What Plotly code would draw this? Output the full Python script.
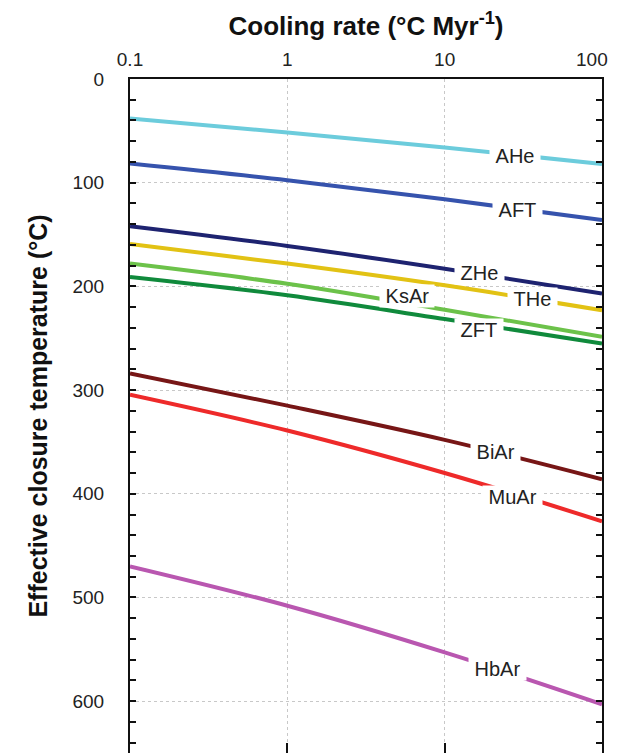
import math
import plotly.graph_objects as go

# Cooling rate (°C/Myr) sample points
rates = [0.1, 1, 10, 100]

# Effective closure temperatures (°C) per system
AHe = [38, 51.6, 66, 82]
AFT = [81.5, 97.6, 116, 136]
ZHe = [142, 161, 183, 207]
THe = [159, 178, 199, 223]
KsAr = [178, 197.5, 222.5, 248.5]
ZFT = [191, 208.6, 231.5, 255]
BiAr = [284, 315, 348, 386]
MuAr = [304.5, 339, 380, 426.5]
HbAr = [470, 508, 553, 603]

names = ["AHe", "AFT", "ZHe", "THe", "KsAr", "ZFT", "BiAr", "MuAr", "HbAr"]
series = [AHe, AFT, ZHe, THe, KsAr, ZFT, BiAr, MuAr, HbAr]
colors = ["#6cccdc", "#3653ad", "#1e2370", "#e2c214", "#6cc24a",
          "#108a3c", "#771616", "#ee2a2a", "#b957b0"]

# inline label positions (cooling rate, temperature)
label_x = [27.8, 28.9, 16.7, 36, 5.77, 16.5, 21, 26.9, 21.6]
label_y = [74.5, 126.6, 186.7, 212.4, 209.2, 241.7, 359.8, 403.2, 568.8]

x_ticks = [0.1, 1, 10, 100]
x_ticktext = ["0.1", "1", "10", "100"]
y_ticks = [0, 100, 200, 300, 400, 500, 600]

FONT = "Liberation Sans, Arial, Helvetica, sans-serif"
BG = "#ffffff"
W = 610

fig = go.Figure()
for n, s, c in zip(names, series, colors):
    fig.add_trace(go.Scatter(x=rates, y=s, mode="lines", name=n,
                             line=dict(color=c, width=4, shape="spline"),
                             showlegend=False, hoverinfo="skip"))

# invisible trace for bottom tick axis
fig.add_trace(go.Scatter(x=[rates[0]], y=[AHe[0]], xaxis="x2", mode="markers",
                         marker=dict(opacity=0), showlegend=False, hoverinfo="skip"))

for n, lx, ly in zip(names, label_x, label_y):
    fig.add_annotation(x=math.log10(lx), y=ly, xref="x", yref="y",
                       text="\u00a0" + n + "\u00a0",
                       showarrow=False, bgcolor=BG, borderpad=0,
                       font=dict(family=FONT, size=20, color="#222222"),
                       xanchor="center", yanchor="middle")

# last x tick label is drawn right-aligned so it stays inside the frame
fig.add_annotation(x=math.log10(x_ticks[-1]), y=1, xref="x", yref="paper",
                   text=x_ticktext[-1], showarrow=False, xanchor="right",
                   yanchor="middle", xshift=8, yshift=20,
                   font=dict(family=FONT, size=19, color="#222222"))

fig.update_layout(
    width=W, height=745,
    margin=dict(l=122, r=W - 594, t=71, b=0, autoexpand=False),
    paper_bgcolor=BG, plot_bgcolor=BG,
    font=dict(family=FONT, size=19, color="#222222"),
    title=dict(text="<b>Cooling rate (°C Myr<sup>-1</sup>)</b>",
               x=358 / W, xref="container", xanchor="center",
               y=1 - 18 / 745, yref="container", yanchor="middle",
               font=dict(family=FONT, size=26, color="#111111")),
    xaxis=dict(type="log", range=[-1, 2], side="top", automargin=False,
               tickvals=x_ticks, ticktext=x_ticktext[:-1] + [""],
               ticks="", showline=True, linecolor="#111111", linewidth=2,
               mirror=True, showgrid=True, gridcolor="#c8c8c8", griddash="dot",
               gridwidth=1, zeroline=False, ticklabelstandoff=3,
               tickfont=dict(size=19)),
    xaxis2=dict(type="log", range=[-1, 2], side="bottom", overlaying="x",
                tickvals=[1, 10], showticklabels=False, ticks="inside",
                ticklen=10, tickwidth=2, tickcolor="#111111", automargin=False,
                showgrid=False, showline=False, zeroline=False),
    yaxis=dict(range=[650, 0], tickvals=y_ticks, ticks="inside", ticklen=6,
               tickwidth=2, tickcolor="#111111", automargin=False,
               minor=dict(dtick=20, tick0=0, ticks="inside", ticklen=6,
                          tickwidth=2, tickcolor="#111111", showgrid=False),
               showline=True, linecolor="#111111", linewidth=2, mirror="ticks",
               showgrid=True, gridcolor="#c8c8c8", griddash="dot", gridwidth=1,
               zeroline=False, ticklabelstandoff=20, tickfont=dict(size=19),
               title=dict(text="<b>Effective closure temperature (°C)</b>",
                          font=dict(family=FONT, size=25, color="#111111"),
                          standoff=18)),
)

fig.write_html("out.html")
